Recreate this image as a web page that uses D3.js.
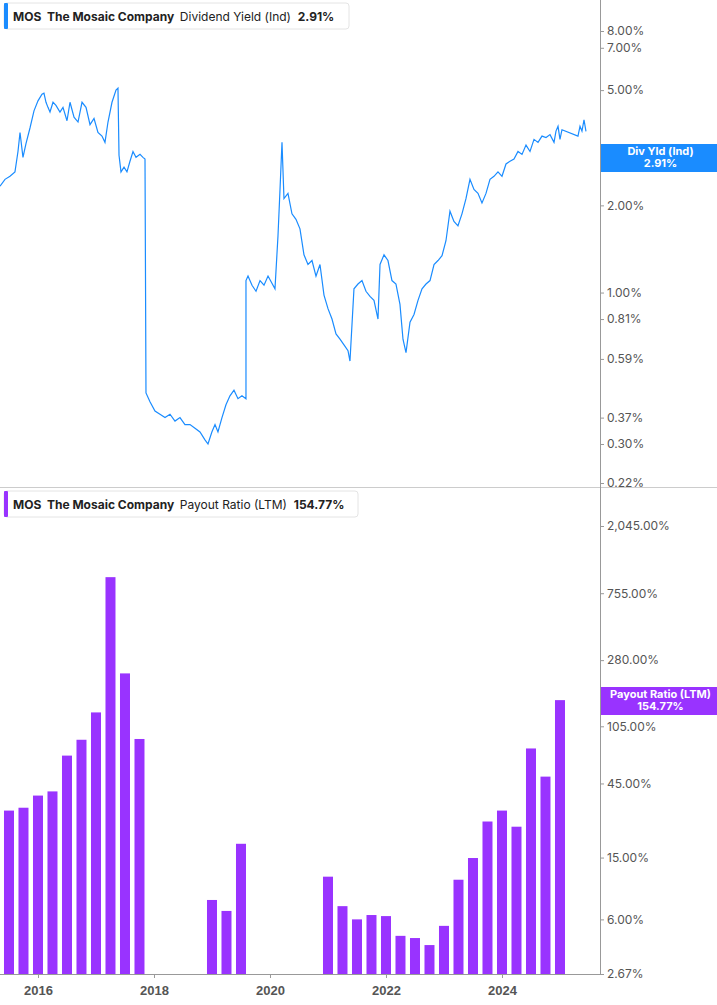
<!DOCTYPE html>
<html><head><meta charset="utf-8">
<script src="https://cdn.jsdelivr.net/npm/d3@7"></script>
<style>body{margin:0;background:#fff;font-family:Inter,"Noto Sans",sans-serif}</style>
</head><body><div id="chart"></div>
<script>
// Dividend yield trace: [decimal year, yield %]
const yieldT = [2015.345,2015.431,2015.517,2015.603,2015.655,2015.69,2015.741,2015.793,2015.862,2015.931,2016.0,2016.069,2016.103,2016.138,2016.172,2016.207,2016.259,2016.31,2016.379,2016.431,2016.5,2016.552,2016.621,2016.69,2016.759,2016.828,2016.897,2016.966,2017.034,2017.103,2017.155,2017.207,2017.276,2017.345,2017.379,2017.397,2017.431,2017.483,2017.534,2017.586,2017.638,2017.69,2017.759,2017.81,2017.845,2017.862,2017.931,2018.017,2018.103,2018.19,2018.276,2018.362,2018.448,2018.534,2018.621,2018.707,2018.793,2018.879,2018.931,2018.998,2019.052,2019.103,2019.172,2019.241,2019.31,2019.379,2019.448,2019.517,2019.586,2019.586,2019.621,2019.69,2019.759,2019.828,2019.897,2019.966,2020.086,2020.138,2020.172,2020.207,2020.241,2020.31,2020.379,2020.448,2020.517,2020.586,2020.655,2020.724,2020.793,2020.862,2020.931,2021.0,2021.069,2021.138,2021.207,2021.276,2021.345,2021.379,2021.448,2021.517,2021.586,2021.655,2021.724,2021.793,2021.862,2021.897,2021.966,2022.034,2022.103,2022.172,2022.241,2022.293,2022.345,2022.414,2022.483,2022.552,2022.621,2022.69,2022.759,2022.828,2022.897,2022.966,2023.034,2023.103,2023.172,2023.241,2023.31,2023.379,2023.448,2023.517,2023.586,2023.655,2023.724,2023.793,2023.862,2023.931,2024.0,2024.069,2024.138,2024.207,2024.276,2024.345,2024.414,2024.483,2024.552,2024.621,2024.69,2024.759,2024.828,2024.897,2024.931,2024.966,2025.0,2025.034,2025.31,2025.345,2025.379,2025.414,2025.448];
const yieldV = [2.33,2.46,2.52,2.61,3.07,3.57,2.93,3.27,3.70,4.24,4.59,4.84,4.88,4.54,4.36,4.20,4.54,4.43,4.20,4.36,3.92,4.54,4.03,3.88,4.54,4.36,3.80,3.99,3.57,3.47,3.30,3.88,4.54,5.00,5.08,2.98,2.61,2.71,2.61,2.84,3.07,2.93,3.00,2.93,2.89,0.45,0.42,0.39,0.38,0.37,0.38,0.36,0.37,0.35,0.35,0.34,0.33,0.31,0.30,0.33,0.35,0.33,0.37,0.41,0.44,0.46,0.43,0.44,0.43,1.10,1.14,1.06,1.01,1.10,1.06,1.14,1.03,1.57,2.25,3.30,2.11,2.20,1.87,1.79,1.66,1.35,1.25,1.29,1.14,1.25,0.98,0.88,0.81,0.72,0.69,0.66,0.63,0.58,1.03,1.07,1.10,1.01,0.97,0.94,0.81,1.25,1.35,1.29,1.10,1.07,0.91,0.69,0.62,0.79,0.84,0.94,1.03,1.07,1.10,1.25,1.29,1.34,1.51,1.91,1.76,1.70,1.87,2.11,2.46,2.27,2.20,2.04,2.20,2.46,2.52,2.61,2.52,2.78,2.84,2.89,3.07,3.00,3.23,3.07,3.38,3.30,3.47,3.43,3.51,3.30,3.61,3.75,3.38,3.65,3.47,3.75,3.61,3.95,3.60,3.90,3.40,2.91];
// Payout ratio (LTM), quarterly
const payoutQ = [2015.5,2015.75,2016.0,2016.25,2016.5,2016.75,2017.0,2017.25,2017.5,2017.75,2019.0,2019.25,2019.5,2021.0,2021.25,2021.5,2021.75,2022.0,2022.25,2022.5,2022.75,2023.0,2023.25,2023.5,2023.75,2024.0,2024.25,2024.5,2024.75,2025.0];
const payoutV = [30.1,31.4,37.6,40,68,86,129,958,230,87,8.0,6.8,18.4,11.3,7.3,6.0,6.4,6.3,4.7,4.55,4.1,5.45,10.8,14.9,25.6,30.1,23.7,75.6,49.8,154.77];
const yieldTicks = [8,7,5,2,1,0.81,0.59,0.37,0.30,0.22];
const payoutTicks = [2045,755,280,105,45,15,6,2.67];
const xTicks = [2016,2018,2020,2022,2024];

const W = 717, H = 1005, plotR = 600;
const blue = "#1a8cff", purple = "#9933ff";
const svg = d3.select("#chart").append("svg").attr("width", W).attr("height", H);

const x = d3.scaleLinear().domain([2015.345, 2015.345 + plotR / 58]).range([0, plotR]);
const yTop = d3.scaleLog().domain([0.22, 8]).range([483, 31]);
const yBot = d3.scaleLog().domain([2.67, 2045]).range([974, 526]);

// separators / axes lines
svg.append("line").attr("x1", 0).attr("x2", W).attr("y1", 487.5).attr("y2", 487.5).attr("stroke", "#ccc");
svg.append("line").attr("x1", plotR + 0.5).attr("x2", plotR + 0.5).attr("y1", 0).attr("y2", 974).attr("stroke", "#999");
svg.append("line").attr("x1", 0).attr("x2", plotR).attr("y1", 974.5).attr("y2", 974.5).attr("stroke", "#999");

// line
svg.append("path")
    .datum(yieldT.map((t, i) => [t, yieldV[i]]))
    .attr("d", d3.line().x(d => x(d[0])).y(d => yTop(d[1])))
    .attr("fill", "none").attr("stroke", blue).attr("stroke-width", 1.2);

// bars
svg.selectAll("rect.bar").data(payoutQ).enter().append("rect")
    .attr("x", d => x(d) - 5).attr("width", 10)
    .attr("y", (d, i) => yBot(payoutV[i]))
    .attr("height", (d, i) => 974 - yBot(payoutV[i]))
    .attr("fill", purple);

// right axes
const axT = svg.append("g").attr("transform", `translate(${plotR},0)`)
    .call(d3.axisRight(yTop).tickValues(yieldTicks).tickSize(4).tickFormat(d => d.toFixed(2) + "%"));
const axB = svg.append("g").attr("transform", `translate(${plotR},0)`)
    .call(d3.axisRight(yBot).tickValues(payoutTicks).tickSize(4).tickFormat(d => d3.format(",.2f")(d) + "%"));
[axT, axB].forEach(a => {
    a.select(".domain").remove();
    a.selectAll("line").attr("stroke", "#999");
    a.selectAll("text").attr("fill", "#555").attr("font-size", 12).attr("font-family", "Inter,sans-serif");
});
const axX = svg.append("g").attr("transform", "translate(0,974)")
    .call(d3.axisBottom(x).tickValues(xTicks).tickSize(4).tickFormat(d3.format("d")));
axX.select(".domain").remove();
axX.selectAll("line").attr("stroke", "#999");
axX.selectAll("text").attr("fill", "#555").attr("font-size", 13).attr("font-weight", "bold").attr("dy", "1.1em");

// value tags
function tag(yc, color, l1, l2) {
    svg.append("rect").attr("x", plotR + 1).attr("y", yc - 14).attr("width", W - plotR).attr("height", 28).attr("fill", color);
    [l1, l2].forEach((t, i) => svg.append("text").attr("x", (plotR + W) / 2 + 2).attr("y", yc - 3 + i * 12)
        .attr("text-anchor", "middle").attr("fill", "#fff").attr("font-size", 11).attr("font-weight", "bold").text(t));
}
tag(158, blue, "Div Yld (Ind)", "2.91%");
tag(701, purple, "Payout Ratio (LTM)", "154.77%");

// legends
function legend(y0, color, parts, w) {
    const g = svg.append("g").attr("transform", `translate(4,${y0})`);
    g.append("rect").attr("width", w).attr("height", 26).attr("rx", 3).attr("fill", "#fff").attr("stroke", "#e4e4e4");
    g.append("rect").attr("width", 4).attr("height", 26).attr("rx", 1).attr("fill", color);
    const t = g.append("text").attr("x", 9).attr("y", 17.5).attr("font-size", 12).attr("fill", "#222");
    parts.forEach(p => t.append("tspan").attr("font-weight", p[1] ? "bold" : "normal").text(p[0]));
}
legend(3, blue, [["MOS  ", 1], ["The Mosaic Company  ", 1], ["Dividend Yield (Ind)  ", 0], ["2.91%", 1]], 345);
legend(491, purple, [["MOS  ", 1], ["The Mosaic Company  ", 1], ["Payout Ratio (LTM)  ", 0], ["154.77%", 1]], 354);
svg.selectAll("tspan").style("white-space", "pre");
</script></body></html>
